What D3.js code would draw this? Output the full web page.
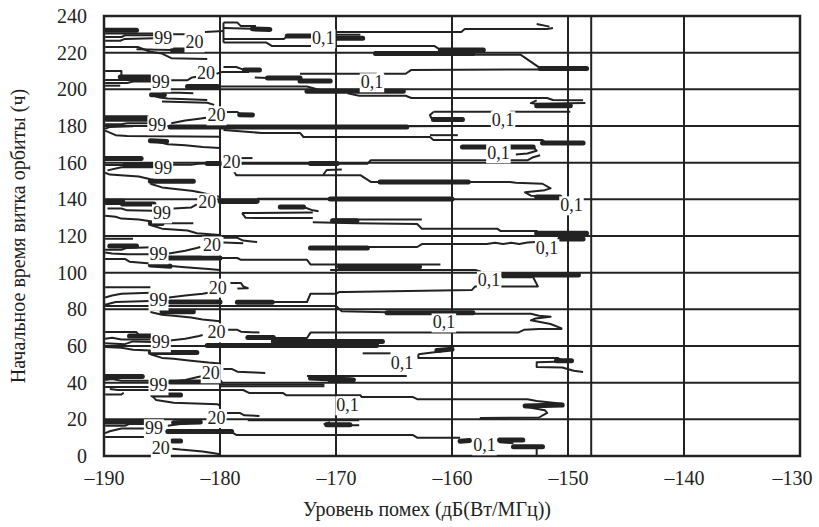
<!DOCTYPE html>
<html><head><meta charset="utf-8">
<script src="https://cdn.jsdelivr.net/npm/d3@7"></script>
<style>body{margin:0;background:#fff}svg{display:block}
svg text{font-family:'Liberation Serif','Times New Roman',Times,'DejaVu Serif',serif}</style>
</head><body><svg id="c" width="819" height="527"></svg>
<script>
const xTicks = [-190,-180,-170,-160,-150,-140,-130];
const yTicks = [0,20,40,60,80,100,120,140,160,180,200,220,240];
const xGrid = [-180,-170,-160,-150,-148,-140];
const yGrid = [20,40,60,80,100,120,140,160,180,200,220];
const xTitle = "Уровень помех (дБ(Вт/МГц))";
const yTitle = "Начальное время витка орбиты (ч)";

// contour lines [dB, hours]
const thinLines = [
 [[-189.9,230.5],[-185.7,230.5]],
 [[-189.9,228.5],[-188.5,228.5],[-188.2,229.5],[-185.7,229.5]],
 [[-189.9,226.5],[-188.6,226.5],[-188.2,227.5],[-185.7,227.8]],
 [[-189.9,223.1],[-187.1,223.1],[-186,220.5],[-185,219.5],[-184.2,217],[-181.1,216.5]],
 [[-187.2,221.8],[-184.1,221.5]],
 [[-184.1,230],[-183,230],[-182.8,229],[-182.4,228.3]],
 [[-181.3,231.3],[-179.7,231.8]],
 [[-179.7,236.4],[-178.5,236.4],[-178.2,234.5],[-176.9,234.5]],
 [[-179.7,233.5],[-177.2,233]],
 [[-179.7,236.4],[-179.7,225.5]],
 [[-179.7,227.5],[-174.5,227.5],[-174.2,229]],
 [[-179.7,225.5],[-176,225.5],[-175.5,223.6],[-161.5,223.6],[-161,221.5]],
 [[-170.1,231.3],[-159.2,231.3],[-158.9,232.9],[-151.8,232.9],[-151.3,233.5]],
 [[-152.7,235.6],[-151.6,234.2]],
 [[-170.1,229.8],[-167.9,229.8]],
 [[-158.2,218.9],[-154.1,218.9],[-152.4,211.6],[-152.4,211.3]],
 [[-173.1,208.5],[-166.5,208.5]],
 [[-165.9,208.5],[-164,208.5],[-163.5,210.6],[-152.4,210.8]],
 [[-177,206.5],[-175.9,206.2]],
 [[-189.9,210],[-188.5,210],[-188.5,206.7]],
 [[-186,206.7],[-185.7,206.7]],
 [[-189.9,205.1],[-185.7,205.1]],
 [[-189.9,203.5],[-188,203.5],[-187.5,204.3],[-185.7,204.3]],
 [[-189.9,202],[-188.6,202]],
 [[-184.2,205],[-182.8,205],[-182.4,206.5],[-181.9,207]],
 [[-179.7,212.2],[-178.6,212.2],[-178.1,211],[-177.9,210.6]],
 [[-180.3,208.5],[-179.8,209.5],[-177.5,209.5]],
 [[-180.2,201.5],[-172.5,201.5],[-171,199]],
 [[-169,197.8],[-168,196.5],[-164,196.5],[-163.5,195.3],[-151.8,195.3],[-151.3,194.2],[-148.7,194]],
 [[-186,197],[-185.2,195.5],[-184.5,195],[-181.1,194.2]],
 [[-185,198.2],[-183.5,198.2],[-182.3,197.8]],
 [[-185,193.3],[-181.1,192.7],[-180.5,191.5]],
 [[-152.7,194],[-153.2,192.5],[-152.8,192.2],[-148.5,192.5]],
 [[-155,187.8],[-149.8,187.8]],
 [[-161.6,187.8],[-156.5,187.8]],
 [[-159.1,183.5],[-161.8,184.5],[-161.9,186],[-161.6,187.6]],
 [[-163.9,179.8],[-159.1,180]],
 [[-189.9,182.8],[-185.8,182.8]],
 [[-189.9,181],[-188.5,181],[-188,181.5],[-185.8,181.5]],
 [[-189.9,178.5],[-189.5,179.5],[-187.5,179.8]],
 [[-189.9,177.5],[-189,175],[-188,174.5],[-180,174.2]],
 [[-185.5,171.5],[-184.5,170],[-183,169.5],[-181.5,168.5],[-180,168]],
 [[-184.2,181.5],[-183,183],[-181.8,184],[-181.2,184.5]],
 [[-179.4,187.6],[-178.5,187.6],[-178.3,186.5],[-177.2,186]],
 [[-179.7,177.8],[-176.4,176.2],[-173.1,176.2],[-172.8,174],[-161.9,174],[-161.6,172.4],[-152.2,172.4],[-151.9,170.7]],
 [[-161.9,175],[-159.5,175]],
 [[-153,168.5],[-152.7,166.5],[-153.5,165],[-154.5,164.5]],
 [[-178.3,159.4],[-167.3,159.4],[-167,161.3],[-157,161.3]],
 [[-155,161.3],[-153.5,161.3],[-153,163],[-152.4,164]],
 [[-178.9,156.5],[-178.6,153.2],[-167.9,153.2],[-167,149.5],[-155,149.5],[-154.5,149],[-152.2,148.5],[-151.5,146],[-152,145],[-153.7,143.8],[-153.2,142],[-150.7,141.3]],
 [[-171.1,153.3],[-170.8,156],[-169.5,156.3]],
 [[-189.9,158.7],[-185.7,158.7]],
 [[-189.7,155.8],[-188.5,157.5],[-185.7,157.5]],
 [[-189.9,154.5],[-189.5,153.5],[-187,152.5],[-186,151],[-184.5,150],[-182.3,149.8]],
 [[-186,148.5],[-185,146.5],[-182.3,144.5],[-180.8,142.5],[-180,141.3]],
 [[-184.1,158.8],[-182.5,158.8],[-181.9,159.4],[-181.1,159.6]],
 [[-178.2,162.5],[-177.2,162.5]],
 [[-176.8,140.3],[-160,140.3]],
 [[-189.9,137.5],[-185.7,137.5]],
 [[-189.7,135],[-188.5,135],[-188,134],[-185.7,133.8]],
 [[-189.9,131],[-189,130.5],[-188.5,129.5],[-187,129],[-186,128],[-185,127],[-182.3,127]],
 [[-186,126],[-185,124],[-182.8,123],[-182,121.5],[-180,120.5]],
 [[-184,135],[-182.5,135.5],[-182,137.3]],
 [[-180,138],[-176.8,138]],
 [[-178.1,132.5],[-177.8,130],[-176.6,129.8],[-172,129.8]],
 [[-178.1,132.5],[-172,132.8]],
 [[-172.8,135.8],[-172,134],[-171.5,133.5]],
 [[-170.3,129],[-162.6,129]],
 [[-172,127.5],[-168.2,127],[-163,126.5],[-162.6,124],[-156.1,124],[-155.8,122.7],[-152.7,122.7],[-152.4,121.5]],
 [[-189.9,118.5],[-187.5,118.5]],
 [[-189.9,112.5],[-188.5,112.5],[-188,113.5],[-185.8,113.8]],
 [[-189.9,111],[-189.3,110.5],[-188,110],[-185.8,110]],
 [[-189.9,107.5],[-188.2,107.5],[-187.8,106],[-186,105],[-185,104],[-183,103],[-181,102],[-180,101.5]],
 [[-184.4,110.5],[-183,112],[-182,113.5],[-181.7,114]],
 [[-179.7,119],[-178.5,119],[-178,117.5],[-176.8,116.7]],
 [[-179.7,116.5],[-178,116]],
 [[-180,108],[-178.5,108],[-178.2,107],[-172.5,107],[-172.2,104.5],[-161,104.5]],
 [[-167.3,114],[-163,114],[-162.6,115.6],[-157,115.6],[-156.3,116.3],[-155.6,115.6],[-154.9,116.3],[-154.2,115.6],[-153.5,116.5],[-152.8,116.7]],
 [[-170.5,101.5],[-158,101.5],[-157.5,100.5]],
 [[-155.7,97.5],[-153,97.5],[-152.6,92.5],[-158,92.5],[-158.3,90.5],[-169.2,89.5],[-169.7,89.5],[-170,88.5],[-172.2,88.5],[-172.5,84],[-178.5,84]],
 [[-189.9,92],[-186,92]],
 [[-189.9,86.5],[-189.3,87.5],[-188.5,88.5],[-186,89]],
 [[-189.9,82.5],[-189,84],[-186,84.5]],
 [[-184.4,86.5],[-183,87.5],[-181.5,88.5],[-181,89]],
 [[-179.1,94.4],[-178.2,94.4],[-178,92.5],[-177.6,91.5],[-178.5,91.3]],
 [[-189.9,81.8],[-170,81.8],[-169.5,79],[-165.6,78.4]],
 [[-158.2,77.6],[-153.2,77.6],[-152.5,76.5],[-151.5,76],[-152.8,75],[-153.2,74],[-151.5,72],[-150.5,69.5]],
 [[-175.4,64.4],[-172.5,64.4],[-172.2,67.3],[-154.3,67.3],[-153.8,68.8],[-152.5,69.3],[-150.5,69.3]],
 [[-186,78.5],[-185,77],[-184,76.5],[-182.5,75.5],[-181.5,74.5],[-180,73.5]],
 [[-189.9,67.6],[-187.2,67.6],[-187,66],[-185.8,66]],
 [[-189.9,64],[-189.3,64.5],[-188.5,63.5],[-186,63.5]],
 [[-189.9,61.5],[-188.2,61],[-187.5,62.5],[-185.8,62.2]],
 [[-184.3,63],[-183,64],[-181.8,65.5],[-181.5,66]],
 [[-179.3,68.8],[-178.5,68.8],[-178.2,67.8],[-176.6,67.3]],
 [[-189.9,59.5],[-188.5,59],[-187.5,58],[-186,57.5]],
 [[-186,55.5],[-185,53.5],[-184,53],[-182.5,52],[-181,51],[-180,50.5]],
 [[-189.9,41.5],[-189.3,42],[-188.5,41],[-185.8,41]],
 [[-189.9,37.6],[-186,37.6]],
 [[-184.4,40.5],[-183,41.5],[-182,43],[-181.6,43.5]],
 [[-179.7,47.5],[-179,47.5],[-178.5,46],[-177,45.5],[-176.1,45.3]],
 [[-189.5,36.5],[-188.8,36],[-178,36],[-177.5,34.4],[-174.6,34.4],[-174.3,33.2],[-167.9,33.2],[-167.8,32.2],[-163.4,32.2],[-163,31],[-153.5,31],[-152.7,30],[-150.5,28.5],[-153.8,27],[-152,25],[-151.8,23.5],[-152.5,21],[-157.6,20.7]],
 [[-180,39],[-171,39]],
 [[-180,38],[-171,38]],
 [[-172.5,43.6],[-163.9,43.6]],
 [[-167.7,56],[-165.3,56]],
 [[-162.9,55.5],[-162.9,53.5],[-150.9,53.5],[-150.3,51.5],[-152.7,51.2],[-152.7,48.5],[-150.5,48.3],[-149.5,46.5],[-148.7,45.8]],
 [[-162.9,55.5],[-161,57],[-160,58.5]],
 [[-189.9,33.5],[-188.5,33.5],[-188.3,34.5]],
 [[-185.8,32.5],[-185.5,30.5],[-184,29],[-180.2,28.2],[-180,27.5]],
 [[-179.4,23.5],[-178.3,23.5],[-177.9,22.2],[-176.6,21.8]],
 [[-177.6,19.5],[-168,19.5]],
 [[-170.5,18.5],[-171,17.5],[-170.5,16.8],[-168,16.8]],
 [[-189.9,16.5],[-188.2,16.5],[-187.8,17.5],[-185.8,17.5]],
 [[-189.9,12.5],[-189.5,13.5],[-188.5,15],[-185.8,15]],
 [[-184.5,16.5],[-183.5,17.5],[-182,18.5],[-181.6,19]],
 [[-179,13],[-178.6,11.5],[-163.4,11.5],[-163,10],[-159.3,10]],
 [[-189.9,10.4],[-184.9,10.4]],
 [[-184.1,4],[-183.4,3.5],[-181.5,2.5],[-180.5,1.5],[-180,1]],
 [[-152.7,5],[-152.7,0.5]],
 [[-155.9,8.7],[-155.9,7.5],[-154.7,7]]
];

// dense (thick) parts of the contours
const thickLines = [
 [[-189.9,232.2],[-187.2,232.2]],
 [[-184.1,221.5],[-182,221.5]],
 [[-177.2,233],[-175.7,232.7]],
 [[-174.2,229.1],[-172,229.1]],
 [[-169.9,227.8],[-167.7,227.8]],
 [[-161,221.5],[-157.3,221.5]],
 [[-166.6,219.5],[-158.2,219.5]],
 [[-152.4,211.3],[-148.4,211.3]],
 [[-188.6,206.7],[-186,206.7]],
 [[-175.9,206.2],[-173.1,206.2]],
 [[-173.1,204.6],[-170.5,204.6]],
 [[-177.9,210.6],[-176.6,210.6]],
 [[-182.8,201.5],[-180.2,201.5]],
 [[-172.5,199],[-164.2,199]],
 [[-185.9,197],[-184.8,197]],
 [[-152.7,191],[-149.8,191]],
 [[-161.6,183.5],[-159.1,183.5]],
 [[-184.3,179.5],[-163.9,179.5]],
 [[-189.9,184.5],[-186.3,184.5]],
 [[-186,172],[-184.6,171.5]],
 [[-178.3,186.2],[-177.2,186]],
 [[-152.2,170.7],[-148.7,170.7]],
 [[-159.1,168.5],[-157,168.5]],
 [[-155,168.5],[-153,168.5]],
 [[-172.2,159.6],[-169.9,159.6]],
 [[-166.2,149.5],[-158.6,149.5]],
 [[-152.7,141.3],[-150.7,141.3]],
 [[-189.9,162.3],[-186.8,162.3]],
 [[-188.2,158.7],[-185.7,158.7]],
 [[-186,149.8],[-182.3,149.8]],
 [[-181.1,159.6],[-180,159.6]],
 [[-189.9,139],[-188.4,139]],
 [[-188.4,137.5],[-185.7,137.5]],
 [[-186,126.8],[-185,126.8]],
 [[-180,139],[-176.8,139]],
 [[-174.8,135.8],[-172.8,135.8]],
 [[-170.3,128.3],[-168.2,128.3]],
 [[-152.7,121.5],[-148.4,121.5]],
 [[-150.7,118.4],[-148.7,118.4]],
 [[-170.5,140.2],[-160,140.2]],
 [[-189.5,114.5],[-187.2,114.5]],
 [[-186,104.2],[-184.3,103.5]],
 [[-184.5,108],[-180,108]],
 [[-169.7,103.2],[-162.8,103.2]],
 [[-172.2,113.5],[-167.3,113.5]],
 [[-155.7,98.7],[-149.1,98.7]],
 [[-184.3,84],[-180,84]],
 [[-178.5,83.8],[-175.5,83.8]],
 [[-165.6,78.2],[-158.2,78.2]],
 [[-185,78.7],[-182.3,78.7]],
 [[-187.8,65.5],[-185.8,65.5]],
 [[-177.6,64.6],[-175.4,64.6]],
 [[-175.4,62.5],[-166,62.5]],
 [[-181.1,60.3],[-166.5,60.3]],
 [[-186,56.5],[-182,56.5]],
 [[-189.9,43.3],[-186.7,43.3]],
 [[-184.3,40.4],[-180,40.4]],
 [[-172.2,42.5],[-168.5,41.5]],
 [[-170.5,41.5],[-168.8,41.5]],
 [[-161.3,57.5],[-160,58.3]],
 [[-151,52],[-149.7,52]],
 [[-153.7,27.3],[-150.5,27.8]],
 [[-185.8,33.3],[-183.4,33.3]],
 [[-170.8,17],[-168.8,17]],
 [[-189.9,18.5],[-186.3,18.5]],
 [[-184,18.2],[-181.7,18.5]],
 [[-184.5,13.3],[-179,13.3]],
 [[-159.3,8],[-158.5,8.5]],
 [[-155.9,8.7],[-153.9,8.7]],
 [[-154.7,5],[-152.2,5]],
 [[-184.1,8.2],[-183.4,8.2]]
];

const labels99 = [[-184.9,228],[-185.1,204],[-185.4,180.6],[-184.9,157],[-185,132.5],[-185.3,110.2],[-185.3,85],[-185.1,62.2],[-185.3,38.7],[-185.7,15.3]];
const labels20 = [[-182.2,225.8],[-181.2,209],[-180.3,186],[-179,160.4],[-181.1,138.5],[-180.7,115],[-180.2,92],[-180.3,67.6],[-180.8,45.3],[-180.3,20.9],[-185.1,4.4]];
const labels01 = [[-171.1,228],[-166.9,204],[-155.6,183.3],[-156,165.3],[-149.7,136.9],[-151.8,113.5],[-156.8,96],[-160.7,73],[-164.3,50.7],[-169,27.8],[-157.2,6]];

const svg = d3.select('#c');
const ink = '#222';
const font = "'Liberation Serif','Times New Roman',Times,'DejaVu Serif',serif";
const x = d3.scaleLinear().domain([-190,-130]).range([104,800]);
const y = d3.scaleLinear().domain([0,240]).range([456,16]);

svg.append('defs').append('clipPath').attr('id','clip').append('rect')
  .attr('x',x(-190)).attr('y',y(240)).attr('width',x(-130)-x(-190)).attr('height',y(0)-y(240));

const grid = svg.append('g');
grid.selectAll('line.v').data(xGrid).join('line').attr('class','v')
  .attr('x1',d=>x(d)).attr('x2',d=>x(d)).attr('y1',y(0)).attr('y2',y(240))
  .attr('stroke',ink).attr('stroke-width',2);
grid.selectAll('line.h').data(yGrid).join('line').attr('class','h')
  .attr('x1',x(-190)).attr('x2',x(-130)).attr('y1',d=>y(d)).attr('y2',d=>y(d))
  .attr('stroke',ink).attr('stroke-width',2);

const line = d3.line().x(d=>x(d[0])).y(d=>y(d[1]));
const lg = svg.append('g').attr('clip-path','url(#clip)');
lg.selectAll('path.thin').data(thinLines).join('path').attr('class','thin')
  .attr('d',line).attr('fill','none').attr('stroke',ink).attr('stroke-width',2)
  .attr('stroke-linejoin','round');
lg.selectAll('path.thick').data(thickLines).join('path').attr('class','thick')
  .attr('d',line).attr('fill','none').attr('stroke',ink).attr('stroke-width',5)
  .attr('stroke-linecap','round');

svg.append('rect').attr('x',x(-190)).attr('y',y(240))
  .attr('width',x(-130)-x(-190)).attr('height',y(0)-y(240))
  .attr('fill','none').attr('stroke',ink).attr('stroke-width',2.5);

// contour labels
const lab = svg.append('g').style('font-family',font).style('font-size','18px').attr('fill',ink);
function addLabels(arr, txt){
  arr.forEach(d=>{
    const g = lab.append('g');
    const t = g.append('text').attr('x',x(d[0])).attr('y',y(d[1])).attr('dy','0.35em')
      .attr('text-anchor','middle').text(txt);
    const b = t.node().getBBox();
    g.insert('rect','text').attr('x',b.x-1).attr('y',b.y+1).attr('width',b.width+2).attr('height',b.height-1).attr('fill','#fff');
  });
}
addLabels(labels99,'99');
addLabels(labels20,'20');
addLabels(labels01,'0,1');

// axes
const fmt = d=>String(d).replace('-','\u2013');
const xa = svg.append('g').attr('transform',`translate(0,${y(0)})`)
  .call(d3.axisBottom(x).tickValues(xTicks).tickSize(0).tickPadding(15).tickFormat(fmt));
xa.select('.domain').remove();
xa.selectAll('text').style('font-family',font).style('font-size','20px').attr('fill',ink)
  .attr('x',d=>d===-130?-8:0);
const ya = svg.append('g').attr('transform',`translate(${x(-190)},0)`)
  .call(d3.axisLeft(y).tickValues(yTicks).tickSize(0).tickPadding(17));
ya.select('.domain').remove();
ya.selectAll('text').style('font-family',font).style('font-size','20px').attr('fill',ink);

svg.append('text').attr('x',427).attr('y',516).attr('text-anchor','middle')
  .style('font-family',font).style('font-size','20px').attr('fill',ink).text(xTitle);
svg.append('text').attr('transform','translate(25,236) rotate(-90)').attr('text-anchor','middle')
  .style('font-family',font).style('font-size','20px').attr('fill',ink).text(yTitle);
</script></body></html>
